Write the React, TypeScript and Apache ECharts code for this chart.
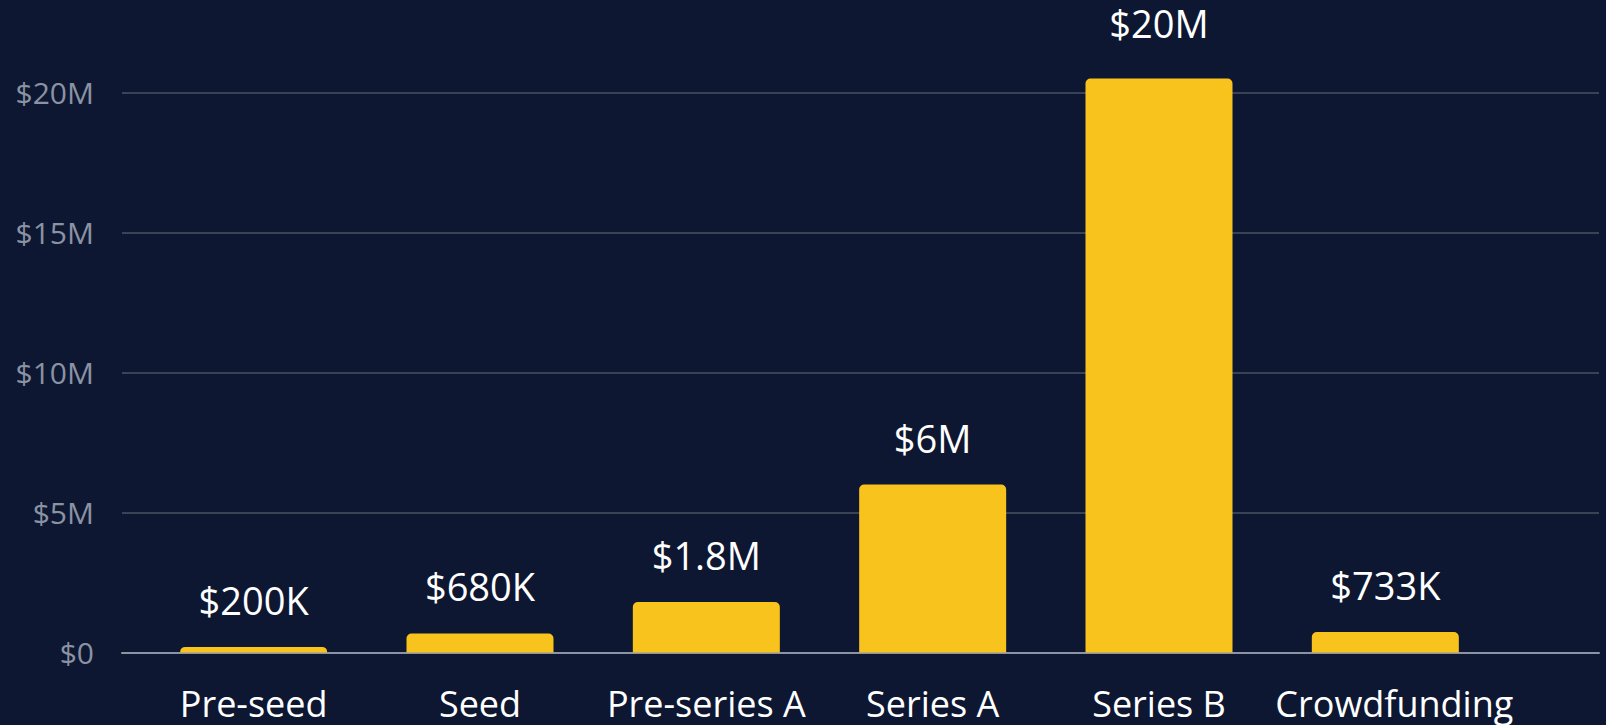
import React, { useEffect, useRef } from "react";
import * as echarts from "echarts";

const categories = ["Pre-seed", "Seed", "Pre-series A", "Series A", "Series B", "Crowdfunding"];
const amounts = [200000, 680000, 1800000, 6000000, 20500000, 733000];
const amountLabels = ["$200K", "$680K", "$1.8M", "$6M", "$20M", "$733K"];
const yTicks = [0, 5000000, 10000000, 15000000, 20000000];

const FONT = "'Open Sans', 'Noto Sans', sans-serif";

export default function App() {
  const ref = useRef<HTMLDivElement>(null);
  useEffect(() => {
    if (!ref.current) return;
    const chart = echarts.init(ref.current, undefined, { renderer: "svg" });
    const yMax = 22000000;
    const top = 36.5;
    const bottom = 72.5;
    const maxIdx = amounts.indexOf(Math.max(...amounts));
    const lastIdx = categories.length - 1;
    chart.setOption({
      animation: false,
      backgroundColor: "#0e1731",
      textStyle: { fontFamily: FONT },
      grid: [
        { left: 122, right: 7, top, bottom },
        { left: 140.5, right: 107.5, top, bottom },
      ],
      xAxis: [
        {
          gridIndex: 0,
          type: "category",
          data: [""],
          axisLine: { show: true, lineStyle: { color: "#8c94a3", width: 2 } },
          axisTick: { show: false },
          axisLabel: { show: false },
        },
        {
          gridIndex: 1,
          type: "category",
          data: categories.map((c, i) =>
            i === lastIdx ? { value: c, textStyle: { padding: [0, 0, 0, 18] } } : c
          ),
          axisLine: { show: false },
          axisTick: { show: false },
          axisLabel: {
            color: "#ffffff",
            fontSize: 36,
            fontFamily: FONT,
            margin: 33,
            interval: 0,
          },
        },
      ],
      yAxis: [
        {
          gridIndex: 0,
          type: "value",
          min: 0,
          max: yMax,
          interval: yTicks[1] - yTicks[0],
          axisLine: { show: false },
          axisTick: { show: false },
          axisLabel: {
            color: "#8a93a3",
            fontSize: 30,
            fontFamily: FONT,
            margin: 28,
            showMaxLabel: false,
            formatter: (v: number) => (v === 0 ? "$0" : "$" + v / 1000000 + "M"),
          },
          splitLine: {
            show: true,
            showMaxLine: false,
            lineStyle: { color: "#3a4256", width: 2 },
          },
        },
        {
          gridIndex: 1,
          type: "value",
          min: 0,
          max: yMax,
          show: false,
          splitLine: { show: false },
        },
      ],
      series: [
        {
          type: "bar",
          xAxisIndex: 1,
          yAxisIndex: 1,
          data: amounts.map((v, i) =>
            i === maxIdx ? { value: v, label: { distance: 37 } } : v
          ),
          barWidth: 147,
          itemStyle: { color: "#f9c31e", borderRadius: [5, 5, 0, 0] },
          label: {
            show: true,
            position: "top",
            distance: 28,
            color: "#ffffff",
            fontSize: 38,
            fontFamily: FONT,
            formatter: (p: any) => amountLabels[p.dataIndex],
          },
        },
      ],
    });
    return () => chart.dispose();
  }, []);
  return (
    <div
      ref={ref}
      style={{ position: "fixed", left: 0, top: 0, width: 1606, height: 725, background: "#0e1731" }}
    />
  );
}
